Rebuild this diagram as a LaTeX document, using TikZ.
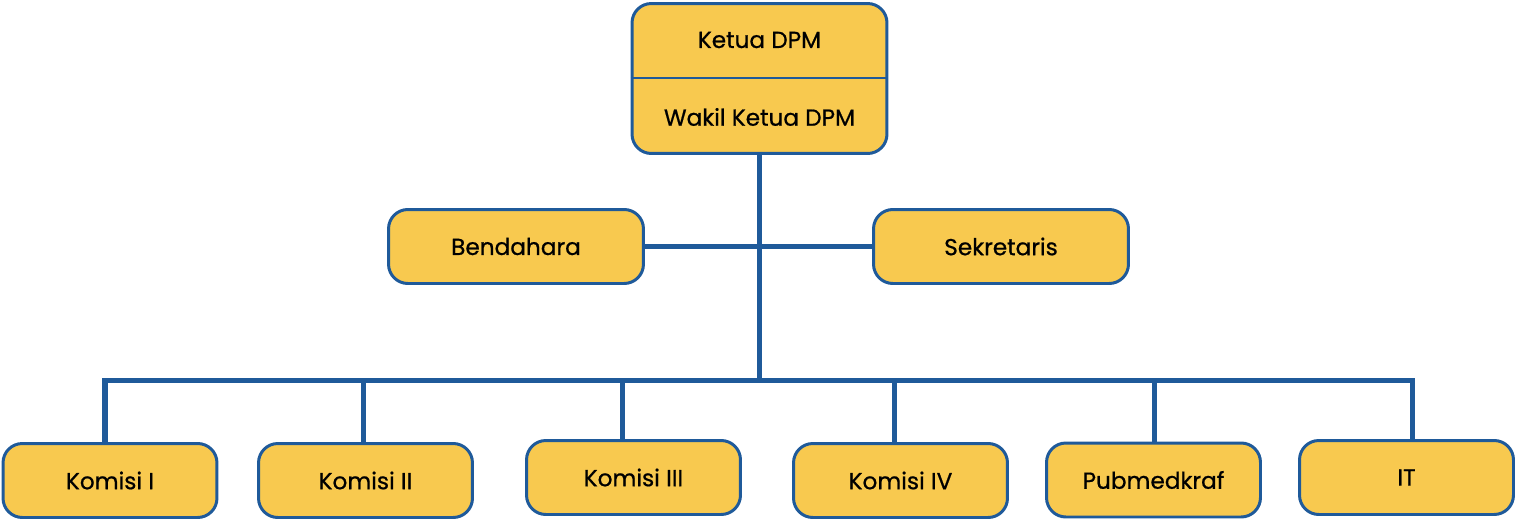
\documentclass[tikz,border=0pt]{standalone}
\usepackage{fontspec}
\setmainfont{Poppins}
\newfontfamily\medfont{Poppins}[FakeBold=0.7]
\definecolor{boxfill}{HTML}{F8C94F}
\definecolor{boxline}{HTML}{1F5A9A}
\begin{document}
\begin{tikzpicture}[x=0.02cm,y=-0.02cm,
  orgbox/.style={draw=boxline, fill=boxfill, line width=1.7pt, rounded corners=11pt,
    minimum width=5.1cm, minimum height=1.48cm, inner sep=0pt,
    font=\fontsize{13.2}{15.8}\selectfont\medfont, text=black},
  smallbox/.style={orgbox, minimum width=4.28cm},
  topbox/.style={orgbox, minimum height=3.0cm},
  lbl/.style={font=\fontsize{13.2}{15.8}\selectfont\medfont, text=black, inner sep=0pt},
  conn/.style={draw=boxline, line width=2.85pt}]
\useasboundingbox (0,0) rectangle (1518,521);
\coordinate (d1) at (105,380);
\coordinate (d2) at (363,380);
\coordinate (d3) at (622,380);
\coordinate (d4) at (894,380);
\coordinate (d5) at (1154,380);
\coordinate (d6) at (1412,380);
% boxes
\node[topbox] (top) at (759.5,78.5) {};
\coordinate (busc) at (top.south |- d1);
\node[lbl] (ketua) at (759.5,40) {Ketua DPM};
\node[lbl] (wakil) at (759.5,117) {Wakil Ketua DPM};
\coordinate (divy) at (759,78);
\draw[draw=boxline, line width=1.7pt] (top.west |- divy) -- (top.east |- divy);
\node[orgbox] (bend) at (516,246.5) {Bendahara};
\node[orgbox] (sekr) at (1001,246.5) {Sekretaris};
\node[smallbox] (k1) at (110,480.5) {Komisi I};
\node[smallbox] (k2) at (365.5,480.5) {Komisi II};
\node[smallbox] (k3) at (633.5,477.5) {Komisi III};
\node[smallbox] (k4) at (900.5,480.5) {Komisi IV};
\node[smallbox] (pub) at (1153.5,480) {Pubmedkraf};
\node[smallbox] (it) at (1406.5,477.5) {IT};
% connectors
\draw[conn] (top.south) -- (busc);
\draw[conn] (bend.east) -- (sekr.west);
\draw[conn, line cap=rect] (d1) -- (d6);
\draw[conn] (d1) -- (k1.north -| d1);
\draw[conn] (d2) -- (k2.north -| d2);
\draw[conn] (d3) -- (k3.north -| d3);
\draw[conn] (d4) -- (k4.north -| d4);
\draw[conn] (d5) -- (pub.north -| d5);
\draw[conn] (d6) -- (it.north -| d6);
\end{tikzpicture}
\end{document}
